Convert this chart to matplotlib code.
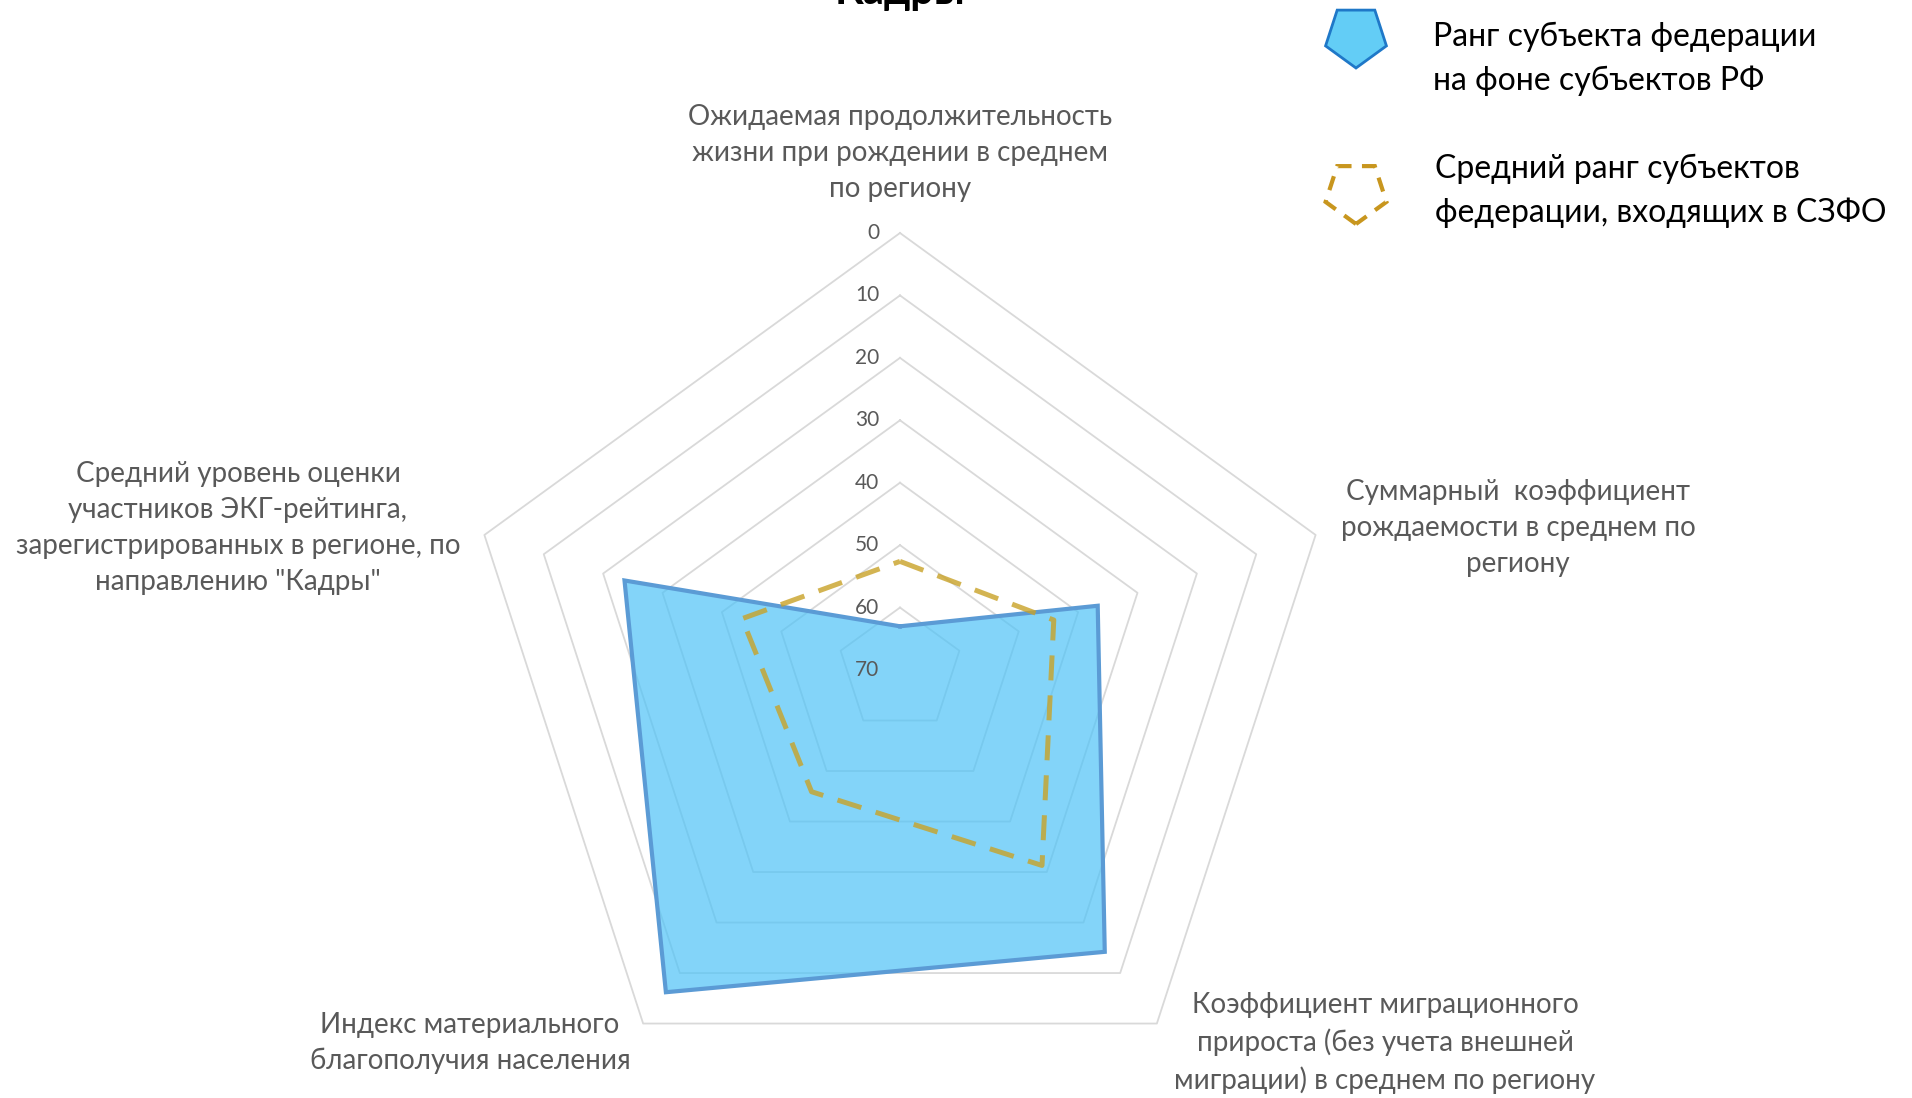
import numpy as np
import matplotlib.pyplot as plt
from matplotlib.patches import RegularPolygon

plt.rcParams['font.family'] = ['Lato', 'DejaVu Sans']

# ---- data ----
categories = [
    'Ожидаемая продолжительность\nжизни при рождении в среднем\nпо региону',
    'Суммарный  коэффициент\nрождаемости в среднем по\nрегиону',
    'Коэффициент миграционного\nприроста (без учета внешней\nмиграции) в среднем по региону',
    'Индекс материального\nблагополучия населения',
    'Средний уровень оценки\nучастников ЭКГ-рейтинга,\nзарегистрированных в регионе, по\nнаправлению "Кадры"',
]
region_rank = [63, 36.7, 14.2, 6.2, 23.6]
szfo_rank = [52.6, 44.1, 31.3, 45.9, 43.4]
r_ticks = [0, 10, 20, 30, 40, 50, 60, 70]
legend_labels = ['Ранг субъекта федерации\nна фоне субъектов РФ',
                 'Средний ранг субъектов\nфедерации, входящих в СЗФО']
title = 'Кадры'

W, H = 1912, 1098
fig = plt.figure(figsize=(W / 100, H / 100), dpi=100)

# polar axes: centre (900, 670) px, outer radius 437 px
cx, cy, R = 900, 670, 437
ax = fig.add_axes([(cx - R) / W, 1 - (cy + R) / H, 2 * R / W, 2 * R / H],
                  projection='polar')
ax.set_theta_zero_location('N')
ax.set_theta_direction(-1)
ax.set_ylim(max(r_ticks), 0)

n = len(categories)
ang = np.linspace(0, 2 * np.pi, n, endpoint=False)
ang_c = np.append(ang, ang[0])

# pentagon grid
for lvl in r_ticks[:-1]:
    ax.plot(ang_c, [lvl] * (n + 1), color='#D9D9D9', lw=1.3, zorder=1, clip_on=False)

reg_c = region_rank + region_rank[:1]
szfo_c = szfo_rank + szfo_rank[:1]
ax.fill(ang_c, reg_c, facecolor='#4FC3F7', alpha=0.7, zorder=2, lw=0)
ax.plot(ang_c, reg_c, color='#5B9BD5', lw=3, zorder=3, solid_joinstyle='miter')
ax.plot(ang_c, szfo_c, color='#C9A227', lw=3.6, ls=(0, (5, 3)), alpha=0.8, zorder=4)

for lvl in r_ticks:
    ax.annotate(str(lvl), xy=(0, lvl), xytext=(-15, 0), textcoords='offset points',
                ha='right', va='center', fontsize=15, color='#595959')

ax.set_xticks([])
ax.set_yticks([])
ax.grid(False)
ax.spines['polar'].set_visible(False)
ax.patch.set_alpha(0)

# category labels
label_pos = [(900, 153), (1518, 528), (1385, 1043), (470, 1043), (238, 528)]
for txt, (px, py) in zip(categories, label_pos):
    fig.text(px / W, 1 - py / H, txt, ha='center', va='center', fontsize=20,
             color='#595959', linespacing=1.47, multialignment='center')

# title sits mostly above the top edge, as in the source
fig.text(900 / W, 1 - 4 / H, title, ha='center', va='baseline', fontsize=30,
         fontweight='bold', color='black')

# legend
lax = fig.add_axes([0, 0, 1, 1])
lax.set_xlim(0, W)
lax.set_ylim(H, 0)
lax.axis('off')
lax.add_patch(RegularPolygon((1356, 36), 5, radius=32, facecolor='#63CDF6',
                             edgecolor='#1F78C8', lw=2))
lax.add_patch(RegularPolygon((1356, 192), 5, radius=32, facecolor='none',
                             edgecolor='#C8961E', lw=3, ls=(0, (3.5, 2.5))))
lax.text(1433, 59, legend_labels[0], ha='left', va='center', fontsize=23,
         color='black', linespacing=1.53)
lax.text(1435, 191, legend_labels[1], ha='left', va='center', fontsize=23,
         color='black', linespacing=1.53)

fig.savefig('out.png', dpi=100)
